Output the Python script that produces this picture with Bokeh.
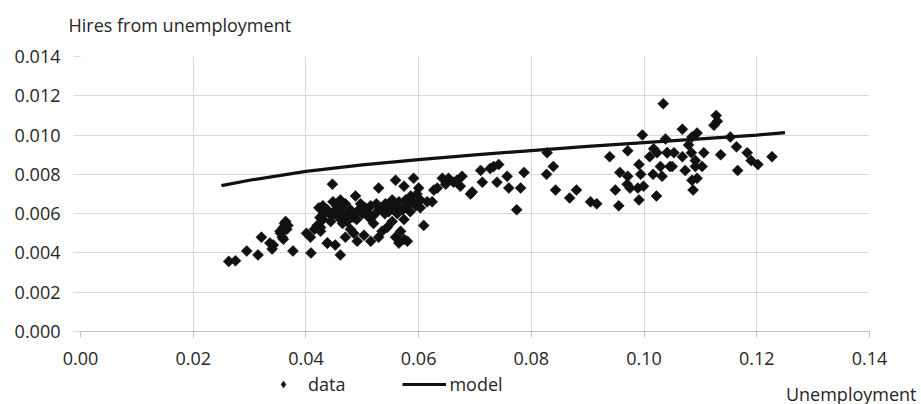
import math
from bokeh.plotting import figure
from bokeh.layouts import column
from bokeh.models import (Range1d, FixedTicker, Legend, LegendItem, NumeralTickFormatter,
                          ColumnDataSource, Label)
from bokeh.embed import file_html
from bokeh.resources import INLINE

# ---------------- data ----------------
data_x = [
    0.0263, 0.0275, 0.0295, 0.0315, 0.0321, 0.0336, 0.0340, 0.0342,
    0.0355, 0.0360, 0.0362, 0.0358, 0.0354, 0.0366, 0.0360, 0.0368, 0.0364,
    0.0377, 0.0401, 0.0408, 0.0409, 0.0420, 0.0423, 0.0426, 0.0438, 0.0426, 0.0430, 0.0415,
    0.0432, 0.0438, 0.0444, 0.0449, 0.0458, 0.0461, 0.0467, 0.0473, 0.0479, 0.0485,
    0.0494, 0.0500, 0.0509, 0.0515, 0.0520, 0.0529, 0.0535, 0.0541, 0.0547, 0.0553,
    0.0559, 0.0565, 0.0571, 0.0577, 0.0580, 0.0586, 0.0591, 0.0597, 0.0603,
    0.0438, 0.0452, 0.0461, 0.0470, 0.0479, 0.0485, 0.0491, 0.0503, 0.0515, 0.0520,
    0.0529, 0.0535, 0.0544, 0.0553, 0.0559, 0.0565, 0.0574, 0.0580, 0.0568, 0.0574,
    0.0425, 0.0455, 0.0465, 0.0475, 0.0490, 0.0505, 0.0512, 0.0525, 0.0540, 0.0550,
    0.0562, 0.0575, 0.0585, 0.0595, 0.0448, 0.0470, 0.0430, 0.0445, 0.0482, 0.0497,
    0.0447, 0.0461, 0.0488, 0.0529, 0.0559, 0.0574, 0.0591, 0.0600, 0.0609, 0.0603, 0.0426,
    0.0615, 0.0624, 0.0627, 0.0633, 0.0642, 0.0648, 0.0653, 0.0662, 0.0668, 0.0674,
    0.0677, 0.0692, 0.0695, 0.0710, 0.0713, 0.0727, 0.0733, 0.0742, 0.0739, 0.0757,
    0.0760, 0.0781, 0.0787, 0.0774,
    0.0828, 0.0839, 0.0827, 0.0843, 0.0868, 0.0880, 0.0905, 0.0916, 0.0939, 0.0949,
    0.0957, 0.0955, 0.0971, 0.0971, 0.0970, 0.0975, 0.0991, 0.0994, 0.0989, 0.0991,
    0.0999, 0.1010, 0.1017, 0.1023, 0.1016, 0.1029, 0.1032, 0.1022, 0.1041, 0.1046,
    0.0997,
    0.1034, 0.1038, 0.1068, 0.1094, 0.1085, 0.1128, 0.1124, 0.1130, 0.1041, 0.1053,
    0.1050, 0.1068, 0.1073, 0.1079, 0.1084, 0.1091, 0.1091, 0.1103, 0.1106, 0.1094,
    0.1085, 0.1087, 0.1136, 0.1153, 0.1164, 0.1166, 0.1183, 0.1190, 0.1202, 0.1227,
]
data_y = [
    0.00357, 0.0036, 0.0041, 0.0039, 0.0048, 0.0045, 0.0042, 0.0044,
    0.0050, 0.0053, 0.0055, 0.0048, 0.0051, 0.0052, 0.0047, 0.0054, 0.0056,
    0.0041, 0.0050, 0.0048, 0.0040, 0.0054, 0.0063, 0.0051, 0.0045, 0.0058, 0.0057, 0.0052,
    0.0060, 0.0062, 0.0056, 0.0061, 0.0058, 0.0062, 0.0059, 0.0056, 0.0062, 0.0058,
    0.0062, 0.0060, 0.0061, 0.0064, 0.0059, 0.0062, 0.0063, 0.0065, 0.0061, 0.0067,
    0.0063, 0.0066, 0.0062, 0.0067, 0.0064, 0.0069, 0.0066, 0.0070, 0.0067,
    0.0045, 0.0044, 0.0039, 0.0048, 0.0052, 0.0050, 0.0046, 0.0049, 0.0046, 0.0055,
    0.0048, 0.0051, 0.0053, 0.0056, 0.0048, 0.0045, 0.0047, 0.0046, 0.0051, 0.0057,
    0.0058, 0.0064, 0.0055, 0.0060, 0.0057, 0.0063, 0.0058, 0.0065, 0.0060, 0.0064,
    0.0060, 0.0063, 0.0061, 0.0064, 0.0066, 0.0065, 0.0064, 0.0059, 0.0060, 0.0065,
    0.0075, 0.0067, 0.0069, 0.0073, 0.0077, 0.0074, 0.0078, 0.0073, 0.0054, 0.0063, 0.0053,
    0.0066, 0.0066, 0.0072, 0.0073, 0.0078, 0.0075, 0.0078, 0.0076, 0.0077, 0.0074,
    0.0079, 0.0070, 0.0071, 0.0082, 0.0076, 0.0083, 0.0084, 0.0085, 0.0076, 0.0079,
    0.0073, 0.0073, 0.0081, 0.0062,
    0.0091, 0.0084, 0.0080, 0.0072, 0.0068, 0.0072, 0.0066, 0.0065, 0.0089, 0.0072,
    0.0081, 0.0064, 0.0092, 0.0079, 0.0075, 0.0073, 0.0085, 0.0080, 0.0073, 0.0067,
    0.0074, 0.0089, 0.0093, 0.0091, 0.0080, 0.0084, 0.0079, 0.0069, 0.0091, 0.0084,
    0.0100,
    0.0116, 0.0098, 0.0103, 0.0101, 0.0099, 0.0110, 0.0105, 0.0107, 0.0091, 0.0091,
    0.0084, 0.0089, 0.0082, 0.0095, 0.0091, 0.0087, 0.0084, 0.0084, 0.0091, 0.0078,
    0.0077, 0.0072, 0.0090, 0.0099, 0.0094, 0.0082, 0.0091, 0.0087, 0.0085, 0.0089,
]
model_x = [0.025, 0.03, 0.04, 0.05, 0.06, 0.07, 0.08, 0.09, 0.10, 0.11, 0.12, 0.125]
model_y = [0.00743, 0.00770, 0.00815, 0.00848, 0.00875, 0.00899, 0.00921, 0.00942, 0.00962, 0.00981, 0.01000, 0.01012]

x_ticks = [0.00, 0.02, 0.04, 0.06, 0.08, 0.10, 0.12, 0.14]
y_ticks = [0.000, 0.002, 0.004, 0.006, 0.008, 0.010, 0.012, 0.014]

y_title = "Hires from unemployment"
x_title = "Unemployment"
series_names = ["data", "model"]

FONT = "Open Sans"
FS = "18px"
TC = "#262626"
MARK = "#111111"

W = 921
H0, H1, H2 = 36, 338, 30
L, R, T, B = 80, 52, 20, 43


def strip(h):
    f = figure(width=W, height=h, x_axis_type=None, y_axis_type=None,
               output_backend="svg", toolbar_location=None,
               min_border_left=0, min_border_right=0, min_border_top=0, min_border_bottom=0)
    try:
        f.frame_align = False
        lo, hi = 0, W                      # frame spans the whole strip
    except Exception:
        lo, hi = L, W - R                  # frame aligned with the main chart
    f.x_range = Range1d(lo, hi)
    f.y_range = Range1d(1000, 1000 + h)
    f.grid.visible = False
    f.outline_line_color = None
    f.background_fill_color = "white"
    f.border_fill_color = "white"
    return f


# ---------------- title strip ----------------
t = strip(H0)
t.add_layout(Label(x=68, y=1000 + H0 - 24, text=y_title, text_align="left",
                   text_baseline="middle", text_font=FONT, text_font_size=FS,
                   text_color=TC))

# ---------------- main chart ----------------
p = figure(width=W, height=H1, x_range=Range1d(0, 0.14), y_range=Range1d(0, 0.014),
           output_backend="svg", toolbar_location=None,
           min_border_left=L, min_border_right=R, min_border_top=T, min_border_bottom=B)
p.outline_line_color = None
p.background_fill_color = "white"
p.border_fill_color = "white"

p.xaxis.ticker = FixedTicker(ticks=x_ticks)
p.yaxis.ticker = FixedTicker(ticks=y_ticks)
p.xaxis.formatter = NumeralTickFormatter(format="0.00")
p.yaxis.formatter = NumeralTickFormatter(format="0.000")

for g in (p.xgrid, p.ygrid):
    g.grid_line_color = "#d9d9d9"
    g.grid_line_width = 1

ax = p.xaxis[0]
ax.axis_line_color = "#bfbfbf"
ax.major_tick_line_color = "#bfbfbf"
ax.major_tick_out = 6
ax.major_tick_in = 0
ax.minor_tick_line_color = None
ax.major_label_text_font = FONT
ax.major_label_text_font_size = FS
ax.major_label_text_color = TC
ax.major_label_standoff = 14

ay = p.yaxis[0]
ay.axis_line_color = None
ay.major_tick_line_color = "#d9d9d9"
ay.major_tick_out = 7
ay.major_tick_in = 0
ay.minor_tick_line_color = None
ay.major_label_text_font = FONT
ay.major_label_text_font_size = FS
ay.major_label_text_color = TC
ay.major_label_standoff = 13

src = ColumnDataSource(dict(x=data_x, y=data_y))
p.scatter("x", "y", source=src, marker="square", size=7.8, angle=math.pi / 4,
          fill_color=MARK, line_color=MARK, line_width=0.5)
p.line(model_x, model_y, line_color=MARK, line_width=3.2)

# ---------------- legend strip ----------------
q = strip(H2)
q_lo = q.x_range.start

# legend proxies: same series, lying outside this strip's visible range
lsrc = ColumnDataSource(dict(x=data_x, y=data_y))
rd = q.scatter("x", "y", source=lsrc, marker="diamond", size=10,
               fill_color=MARK, line_color=MARK, line_width=0.5)
rm = q.line(model_x, model_y, line_color=MARK, line_width=3.2)

legend = Legend(items=[LegendItem(label=series_names[0], renderers=[rd]),
                       LegendItem(label=series_names[1], renderers=[rm])],
                location=(261 - q_lo, 8), orientation="horizontal",
                border_line_color=None, background_fill_alpha=0,
                padding=0, margin=0, spacing=57,
                glyph_width=44, glyph_height=18, label_standoff=3, label_height=18,
                label_text_font=FONT, label_text_font_size=FS, label_text_color=TC)
q.add_layout(legend, "center")

q.add_layout(Label(x=916, y=1000 + 11, text=x_title, text_align="right",
                   text_baseline="middle", text_font=FONT, text_font_size=FS,
                   text_color=TC))

layout = column(t, p, q, spacing=0)
open("out.html", "w").write(file_html(layout, INLINE))
